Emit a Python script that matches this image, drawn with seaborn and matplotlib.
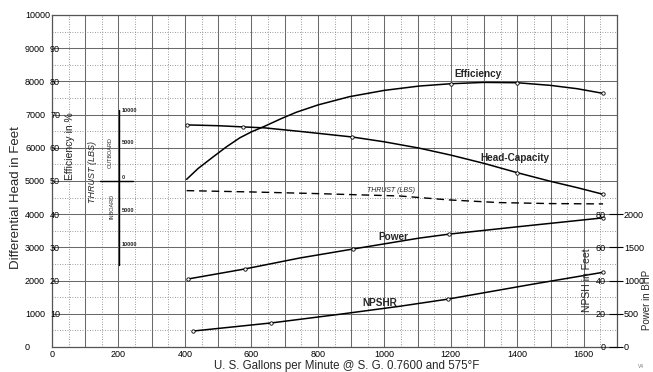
import matplotlib
matplotlib.use("Agg")
import matplotlib.pyplot as plt
import seaborn as sns
from matplotlib.ticker import MultipleLocator, FixedLocator, FuncFormatter

# ---------------- data ----------------
gpm_head = [405, 500, 574, 640, 750, 904, 1000, 1105, 1200, 1300, 1400, 1500, 1580, 1658]
head_ft = [6690, 6665, 6630, 6600, 6490, 6325, 6180, 5990, 5780, 5530, 5250, 4990, 4800, 4600]
head_mark_gpm = [405, 574, 904, 1400, 1658]
head_mark_ft = [6690, 6630, 6325, 5250, 4600]

eff_gpm = [405, 440, 484, 525, 565, 600, 640, 690, 735, 800, 895, 1000, 1105,
           1200, 1300, 1400, 1500, 1580, 1658]
eff_pct = [50.5, 53.8, 57.2, 60.3, 63.0, 64.8, 66.5, 68.8, 70.7, 72.9, 75.4, 77.3,
           78.6, 79.3, 79.7, 79.6, 78.8, 77.8, 76.4]
eff_mark_gpm = [1200, 1400, 1658]
eff_mark_pct = [79.3, 79.6, 76.4]

power_gpm = [409, 580, 745, 905, 1105, 1195, 1400, 1658]
power_bhp = [1024, 1175, 1340, 1475, 1640, 1700, 1810, 1945]
power_mark_gpm = [409, 580, 905, 1195, 1658]
power_mark_bhp = [1024, 1175, 1475, 1700, 1945]

npsh_gpm = [424, 660, 865, 1045, 1190, 1445, 1658]
npsh_ft = [9.6, 14.5, 19.7, 24.5, 28.8, 37.8, 45.0]
npsh_mark_gpm = [424, 660, 1190, 1658]
npsh_mark_ft = [9.6, 14.5, 28.8, 45.0]

thrust_gpm = [405, 600, 800, 935, 1045, 1195, 1345, 1500, 1658]
thrust_head = [4710, 4670, 4620, 4580, 4550, 4430, 4350, 4320, 4310]

# handwritten thrust scale (in gpm / head-feet units)
thrust_scale_x = [201, 201]
thrust_scale_y = [7140, 2470]
thrust_zero_x = [144, 243]
thrust_zero_y = [5000, 5000]
thrust_tick_labels = ["10000", "5000", "0", "5000", "10000"]
thrust_tick_y = [7110, 6150, 5100, 4100, 3100]

x_ticks = [0, 200, 400, 600, 800, 1000, 1200, 1400, 1600]
head_ticks = [0, 1000, 2000, 3000, 4000, 5000, 6000, 7000, 8000, 9000, 10000]
eff_ticks = [10, 20, 30, 40, 50, 60, 70, 80, 90]
npsh_ticks = [0, 20, 40, 60, 80]
power_ticks = [0, 500, 1000, 1500, 2000]

# ---------------- style ----------------
sns.set_theme(style="white")
plt.rcParams["font.family"] = ["Liberation Sans", "DejaVu Sans"]

W, H = 653, 372
fig = plt.figure(figsize=(W / 100, H / 100), dpi=100)
fig.patch.set_facecolor("white")
L, R, T, B = 52, 617, 15, 347
ax = fig.add_axes([L / W, 1 - B / H, (R - L) / W, (B - T) / H])
ax.set_xlim(0, 1700)
ax.set_ylim(0, 10000)
ax.set_facecolor("white")

# grid
ax.xaxis.set_major_locator(MultipleLocator(100))
ax.xaxis.set_minor_locator(MultipleLocator(50))
ax.yaxis.set_major_locator(FixedLocator(head_ticks))
ax.yaxis.set_minor_locator(MultipleLocator(500))
ax.grid(which="major", color="#6a6a6a", linewidth=0.75, linestyle="-")
ax.grid(which="minor", color="#7a7a7a", linewidth=0.6, linestyle=(0, (1, 2)))
ax.set_axisbelow(True)
ax.xaxis.set_major_formatter(
    FuncFormatter(lambda v, p: f"{int(v)}" if int(round(v)) in x_ticks else ""))
ax.tick_params(axis="x", which="both", length=0, pad=2, labelsize=6.5, colors="black")
ax.tick_params(axis="y", which="both", length=0, pad=19.4, labelsize=6.5, colors="black")
for lab in ax.get_yticklabels():
    lab.set_horizontalalignment("left")
for s in ax.spines.values():
    s.set_color("#555555")
    s.set_linewidth(0.9)

# thrust (head scale) + head-capacity
sns.lineplot(x=gpm_head, y=head_ft, ax=ax, color="black", linewidth=1.1,
             estimator=None, sort=False)
sns.scatterplot(x=head_mark_gpm, y=head_mark_ft, ax=ax, marker="o", s=6,
                facecolor="white", edgecolor="black", linewidth=0.6, zorder=5)
sns.lineplot(x=thrust_gpm, y=thrust_head, ax=ax, color="black", linewidth=1.0,
             estimator=None, sort=False, linestyle=(0, (5.5, 3.5)))
sns.lineplot(x=thrust_scale_x, y=thrust_scale_y, ax=ax, color="black", linewidth=1.0,
             estimator=None, sort=False)
sns.lineplot(x=thrust_zero_x, y=thrust_zero_y, ax=ax, color="black", linewidth=1.0,
             estimator=None, sort=False)
for lab, yv in zip(thrust_tick_labels, thrust_tick_y):
    ax.text(210, yv, lab, fontsize=4, ha="left", va="center", fontweight="bold")
ax.text(174, 5870, "OUTBOARD", rotation=90, fontsize=4, ha="center", va="center")
ax.text(180, 4220, "INBOARD", rotation=90, fontsize=4, ha="center", va="center")
ax.text(123, 5270, "THRUST (LBS)", rotation=90, fontsize=6.5, ha="center",
        va="center", style="italic")
ax.text(1020, 4700, "THRUST (LBS)", fontsize=5, ha="center", va="center",
        style="italic")

# efficiency axis (inside left)
ax_e = ax.twinx()
ax_e.set_ylim(0, 100)
ax_e.yaxis.set_ticks_position("left")
ax_e.set_yticks(eff_ticks)
ax_e.tick_params(axis="y", length=0, pad=-5.8, labelsize=6.5, colors="black")
for s in ax_e.spines.values():
    s.set_visible(False)
ax_e.grid(False)
sns.lineplot(x=eff_gpm, y=eff_pct, ax=ax_e, color="black", linewidth=1.1,
             estimator=None, sort=False)
sns.scatterplot(x=eff_mark_gpm, y=eff_mark_pct, ax=ax_e, marker="o", s=6,
                facecolor="white", edgecolor="black", linewidth=0.6, zorder=5)

# power axis (outside right)
ax_p = ax.twinx()
ax_p.set_ylim(0, 5000)
ax_p.set_yticks(power_ticks)
ax_p.tick_params(axis="y", direction="out", length=4, width=0.8, pad=1,
                 labelsize=6.5, colors="black")
for s in ax_p.spines.values():
    s.set_visible(False)
ax_p.grid(False)
sns.lineplot(x=power_gpm, y=power_bhp, ax=ax_p, color="black", linewidth=1.1,
             estimator=None, sort=False)
sns.scatterplot(x=power_mark_gpm, y=power_mark_bhp, ax=ax_p, marker="o", s=6,
                facecolor="white", edgecolor="black", linewidth=0.6, zorder=5)

# NPSH axis (inside right)
ax_n = ax.twinx()
ax_n.set_ylim(0, 200)
ax_n.set_yticks(npsh_ticks)
ax_n.tick_params(axis="y", direction="in", length=6, width=0.8, pad=-7.9,
                 labelsize=6.5, colors="black")
for lab in ax_n.get_yticklabels():
    lab.set_horizontalalignment("right")
for s in ax_n.spines.values():
    s.set_visible(False)
ax_n.grid(False)
sns.lineplot(x=npsh_gpm, y=npsh_ft, ax=ax_n, color="black", linewidth=1.1,
             estimator=None, sort=False)
sns.scatterplot(x=npsh_mark_gpm, y=npsh_mark_ft, ax=ax_n, marker="o", s=6,
                facecolor="white", edgecolor="black", linewidth=0.6, zorder=5)

for a in (ax, ax_e, ax_p, ax_n):
    a.set_xlabel("")
    a.set_ylabel("")

# curve labels
def px(xp, yp):
    return xp / W, 1 - yp / H

lbl = dict(fontsize=7.2, fontweight="bold", ha="center", va="center")
fig.text(*px(478, 74), "Efficiency", **lbl)
fig.text(*px(515, 158), "Head-Capacity", **lbl)
fig.text(*px(393, 237), "Power", **lbl)
fig.text(*px(380, 303), "NPSHR", **lbl)

# axis titles
fig.text(*px(16, 198), "Differential Head in Feet", rotation=90, fontsize=9.5,
         ha="center", va="center")
fig.text(*px(70, 146), "Efficiency in %", rotation=90, fontsize=7.5,
         ha="center", va="center")
fig.text(*px(587, 280), "NPSH in Feet", rotation=90, fontsize=7.5,
         ha="center", va="center")
fig.text(*px(647.5, 300), "Power in BHP", rotation=90, fontsize=7,
         ha="center", va="center")
fig.text(*px(347, 366), "U. S. Gallons per Minute @ S. G. 0.7600 and 575°F",
         fontsize=8.3, ha="center", va="center")
fig.text(*px(641, 366), "V4", fontsize=3.5, color="#777777", ha="center", va="center")

fig.savefig("out.png", dpi=100, facecolor="white")
